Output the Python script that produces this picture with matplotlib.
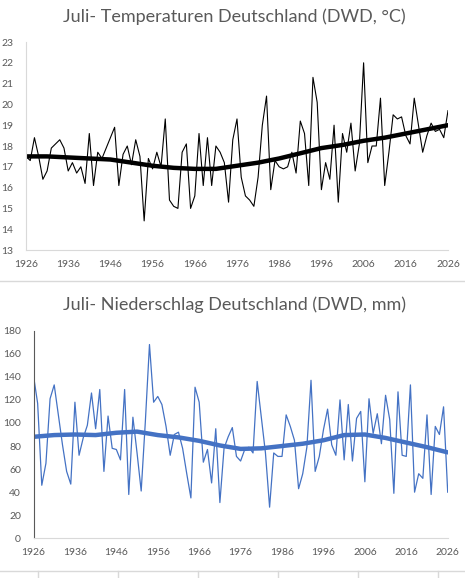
import matplotlib.pyplot as plt
import numpy as np
from matplotlib.lines import Line2D

# July temperature and precipitation, Germany (DWD)
years = np.arange(1926, 2027)

temp = [17.5, 17.3, 18.4, 17.5, 16.4, 16.8, 17.9, 18.1, 18.3, 17.9,
        16.8, 17.2, 16.7, 17.0, 16.2, 18.6, 16.1, 17.7, 17.4, 17.9,
        18.4, 18.9, 16.1, 17.6, 18.0, 17.1, 18.3, 17.5, 14.4, 17.4,
        16.9, 17.7, 17.0, 19.3, 15.4, 15.1, 15.0, 17.7, 18.1, 15.0,
        15.6, 18.6, 16.1, 18.4, 16.1, 18.0, 17.7, 17.2, 15.3, 18.3,
        19.3, 16.5, 15.6, 15.4, 15.1, 16.5, 19.0, 20.4, 15.9, 17.3,
        17.0, 16.9, 17.0, 17.7, 16.7, 19.2, 18.6, 16.1, 21.3, 20.1,
        15.9, 17.2, 16.4, 19.0, 15.3, 18.6, 17.7, 19.1, 16.8, 18.1,
        22.0, 17.2, 18.0, 18.0, 20.3, 16.1, 17.7, 19.5, 19.3, 19.4,
        18.5, 18.1, 20.3, 19.0, 17.7, 18.5, 19.1, 18.7, 18.8, 18.4,
        19.7]

rain = [141, 117, 46, 65, 121, 133, 107, 81, 58, 47,
        118, 72, 87, 98, 126, 95, 129, 58, 106, 78,
        77, 68, 129, 38, 105, 74, 41, 101, 168, 118,
        123, 116, 97, 72, 90, 92, 78, 56, 35, 131,
        118, 66, 77, 48, 95, 31, 78, 88, 96, 71,
        67, 77, 79, 74, 136, 105, 74, 27, 74, 71,
        71, 107, 97, 85, 43, 56, 79, 137, 58, 71,
        94, 112, 81, 72, 120, 68, 116, 67, 104, 110,
        49, 121, 91, 108, 82, 124, 103, 39, 127, 72,
        71, 133, 40, 56, 52, 107, 38, 97, 90, 114,
        40]

# smoothed trend lines, read every 5 years
trend_years = np.arange(1926, 2027, 5)
temp_trend = [17.5, 17.5, 17.45, 17.4, 17.35, 17.2, 17.05, 16.95, 16.9, 16.9,
              17.05, 17.2, 17.4, 17.65, 17.9, 18.05, 18.25, 18.4, 18.6, 18.8,
              19.0]
rain_trend = [88, 89.5, 90, 89.5, 91.5, 92.5, 89.5, 87.5, 84.5, 80.5,
              77.5, 78, 80, 82, 85, 89.5, 90, 87, 83, 79,
              74.5]

titles = ['Juli- Temperaturen Deutschland (DWD, °C)',
          'Juli- Niederschlag Deutschland (DWD, mm)']

plt.rcParams['font.family'] = ['Lato', 'DejaVu Sans']
grey = '#595959'
light = '#d9d9d9'

fig = plt.figure(figsize=(4.65, 5.78), dpi=100)

#Top: temperature
ax1 = fig.add_axes([26/465, 1-250/578, 422/465, 208/578])
ax1.plot(years, temp, color='black', lw=0.8)
ax1.plot(trend_years, temp_trend, color='black', lw=3.2, solid_capstyle='round')
ax1.set_ylim(13, 23)
ax1.set_yticks(np.arange(13, 24, 1))

#Bottom: precipitation
ax2 = fig.add_axes([33.5/465, 1-538.3/578, 414.2/465, 207.6/578])
ax2.plot(years, rain, color='#4472C4', lw=0.9)
ax2.plot(trend_years, rain_trend, color='#4472C4', lw=3.2, solid_capstyle='round')
ax2.set_ylim(0, 180)
ax2.set_yticks(np.arange(0, 181, 20))

for ax, left_col in [(ax1, light), (ax2, grey)]:
    ax.set_xlim(1926, 2026)
    ax.set_xticks(np.arange(1926, 2027, 10))
    for side in ['top', 'right']:
        ax.spines[side].set_visible(False)
    ax.spines['left'].set_color(left_col)
    ax.spines['bottom'].set_color(light)
    ax.tick_params(length=0, labelsize=7.5, labelcolor=grey)
    ax.tick_params(axis='y', pad=9)
    ax.tick_params(axis='x', pad=7)
    ax.set_facecolor('none')

fig.text(0.504, 1-17/578, titles[0], ha='center', va='center', fontsize=13, color=grey)
fig.text(0.504, 1-305/578, titles[1], ha='center', va='center', fontsize=13, color=grey)

# separator and sheet gridlines below the charts
fig.add_artist(Line2D([0, 1], [1-281/578, 1-281/578], color=light, lw=1))
fig.add_artist(Line2D([0, 1], [1-571/578, 1-571/578], color=light, lw=1))
for xp in [38, 118, 198, 278, 358, 438]:
    fig.add_artist(Line2D([xp/465, xp/465], [0, 1-571/578], color=light, lw=1))

plt.savefig('out.png', dpi=100)
